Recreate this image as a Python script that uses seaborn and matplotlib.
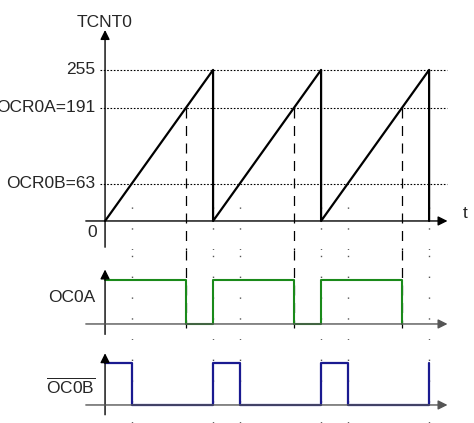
import matplotlib
matplotlib.use("Agg")
from matplotlib import pyplot as plt
import seaborn as sns

sns.set_style("white")
plt.rcParams['font.family'] = ['Liberation Sans', 'DejaVu Sans']
plt.rcParams['mathtext.fontset'] = 'custom'
plt.rcParams['mathtext.rm'] = 'Liberation Sans'

# counter values (time in counter ticks)
ramp_t = [0, 255, 255, 510, 510, 765, 765]
ramp_v = [0, 255, 0, 255, 0, 255, 0]
levels = [255, 191, 63]
level_labels = ['255', 'OCR0A=191', 'OCR0B=63']
match_a = [191, 446, 701]
dots_t = [63, 255, 318, 510, 573, 765]

oc0a_t = [0, 191, 191, 255, 255, 446, 446, 510, 510, 701, 701]
oc0a_v = [1, 1, 0, 0, 1, 1, 0, 0, 1, 1, 0]
oc0b_t = [0, 63, 63, 255, 255, 318, 318, 510, 510, 573, 573, 765, 765]
oc0b_v = [1, 1, 0, 0, 1, 1, 0, 0, 1, 1, 0, 0, 1]

W, H = 474, 423
fig = plt.figure(figsize=(4.74, 4.23), dpi=100)
XL = (-248, 871)


def make_ax(top_px, bot_px, ylim):
    ax = fig.add_axes([0, 1 - bot_px / H, 1, (bot_px - top_px) / H])
    ax.set_xlim(XL)
    ax.set_ylim(ylim)
    ax.axis('off')
    return ax


ax1 = make_ax(0, 250, (-49, 373))
ax2 = make_ax(250, 340, (-0.364, 1.68))
ax3 = make_ax(340, 423, (-0.43, 1.55))

dot = dict(color='#555555', lw=1, linestyle=(0, (1, 14)))
for t in dots_t:
    ax1.plot([t, t], [-49, 40], **dot)
    ax2.plot([t, t], [-0.364, 1.68], **dot)
    ax3.plot([t, t], [-0.43, 1.55], **dot)

# horizontal reference lines
for lv, lab in zip(levels, level_labels):
    ax1.plot([-12, 808], [lv, lv], color='black', lw=0.8, linestyle=(0, (1.5, 1.5)))
    ax1.text(-24, lv, lab, ha='right', va='center', fontsize=12.5)

# dashed compare-match lines
for t in match_a:
    ax1.plot([t, t], [191, -49], color='black', lw=0.9, linestyle=(0, (8, 6)))
    ax2.plot([t, t], [1.68, -0.1], color='black', lw=0.9, linestyle=(0, (8, 6)))

sns.lineplot(x=ramp_t, y=ramp_v, sort=False, estimator=None, ax=ax1, color='black', lw=1.6)
sns.lineplot(x=oc0a_t, y=oc0a_v, sort=False, estimator=None, ax=ax2, color='#1a8a1a', lw=1.5)
sns.lineplot(x=oc0b_t, y=oc0b_v, sort=False, estimator=None, ax=ax3, color='#1a1a90', lw=1.6)

# axes with arrows
arr = dict(arrowstyle='-|>', color='black', lw=1, mutation_scale=14)
ax1.annotate('', xy=(0, 327), xytext=(0, -49), arrowprops=arr)
ax1.annotate('', xy=(815, 0), xytext=(-52, 0), arrowprops=arr)
ax1.text(0, 335, 'TCNT0', ha='center', va='center', fontsize=12.5)
ax1.text(850, 13, 't', ha='center', va='center', fontsize=12.5)
ax1.text(-20, -20, '0', ha='right', va='center', fontsize=12.5)

for ax in (ax2, ax3):
    ax.annotate('', xy=(0, 1.3), xytext=(0, -0.3), arrowprops=arr)
    ax.annotate('', xy=(815, 0), xytext=(-52, 0),
                arrowprops=dict(arrowstyle='-|>', color='#555555', lw=1, mutation_scale=14))

ax2.text(-24, 0.6, 'OC0A', ha='right', va='center', fontsize=12.5)
ax3.text(-24, 0.45, r'$\overline{\mathrm{OC0B}}$', ha='right', va='center', fontsize=12.5)

fig.savefig('out.png', dpi=100)
